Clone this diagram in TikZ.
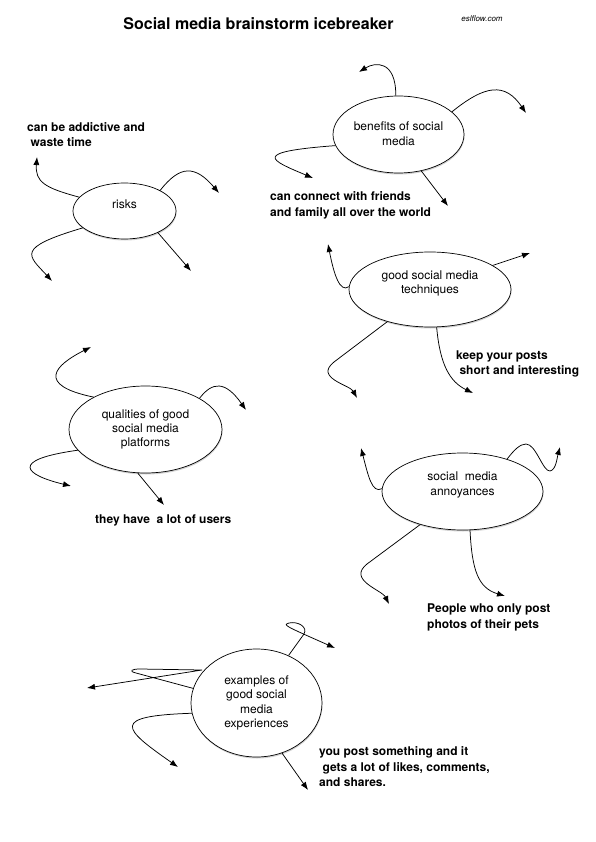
\documentclass[tikz,border=0pt]{standalone}
\usepackage{fontspec}
\setmainfont{TeX Gyre Heros}
\usetikzlibrary{arrows.meta,shapes.geometric,shadows}

\begin{document}
\begin{tikzpicture}[x=1pt,y=-1pt,
  bubble/.style={draw, ellipse, line width=0.7pt, fill=white, inner sep=0pt,
    drop shadow={shadow xshift=0.5pt, shadow yshift=-1.5pt, opacity=0.35}},
  bubtext/.style={align=center, inner sep=0pt, font=\fontsize{12}{14.4}\selectfont},
  note/.style={align=left, anchor=north west, inner sep=0pt, font=\fontsize{12}{15.5}\selectfont\bfseries},
  link/.style={line width=0.75pt, -{Latex[length=8pt,width=6pt]}}]

  \path[fill=white] (0,0) rectangle (596,842);

  % Title
  \node[font=\fontsize{16}{19}\selectfont\bfseries] (title) at (258.5,23.5) {Social media brainstorm icebreaker};
  \node[font=\fontsize{8}{10}\selectfont\itshape] (site) at (482,18.5) {eslflow.com};

  % Bubbles
  \node[bubble, minimum width=103, minimum height=56,
    label={[bubtext,yshift=7pt]center:risks}] (risks) at (124.5,211) {};
  \node[bubble, minimum width=131, minimum height=77,
    label={[bubtext,yshift=1pt]center:benefits of social\\media}] (benefits) at (398.5,134.5) {};
  \node[bubble, minimum width=162, minimum height=75,
    label={[bubtext,yshift=6pt]center:good social media\\techniques}] (tech) at (430,289.5) {};
  \node[bubble, minimum width=153, minimum height=87,
    label={[bubtext]center:qualities of good\\social media\\platforms}] (qual) at (145.5,429.5) {};
  \node[bubble, minimum width=161, minimum height=77,
    label={[bubtext,yshift=6.5pt]center:social\ \ media\\annoyances}] (annoy) at (462.5,491.5) {};
  \node[bubble, minimum width=131, minimum height=108,
    label={[bubtext]center:examples of\\good social\\media\\experiences}] (examples) at (256.5,703) {};

  % Notes
  \node[note] (risks-note) at (27,122) {can be addictive and\\\hspace*{.28em}waste time};
  \node[note] (benefits-note) at (270,191.5) {can connect with friends\\and family all over the world};
  \node[note] (tech-note) at (456,350.5) {keep your posts\\\hspace*{.28em}short and interesting};
  \node[note] (qual-note) at (95,515) {they have\ \ a lot of users};
  \node[note] (annoy-note) at (427,604) {People who only post\\photos of their pets};
  \node[note] (examples-note) at (319,746.5) {you post something and it\\\hspace*{.28em}gets a lot of likes, comments,\\and shares.};

  % Arrow ends
  \coordinate (r1) at (37,157);   \coordinate (r2) at (219,193);
  \coordinate (r3) at (52,281);   \coordinate (r4) at (191,271);
  \coordinate (b1) at (359,72);   \coordinate (b2) at (526,113);
  \coordinate (b3) at (313,178);  \coordinate (b4) at (448,206);
  \coordinate (t1) at (328,244);  \coordinate (t2) at (530,253);
  \coordinate (t3) at (357,398);  \coordinate (t4) at (473,393);
  \coordinate (q1) at (91,347);   \coordinate (q2) at (246,410);
  \coordinate (q3) at (71,486);   \coordinate (q4) at (164,505);
  \coordinate (a1) at (361,448);  \coordinate (a2) at (560,447);
  \coordinate (a3) at (389,604);  \coordinate (a4) at (505,596);
  \coordinate (e1) at (335,648);  \coordinate (e2) at (87,688);
  \coordinate (e3) at (178,767);  \coordinate (e4) at (308,790);

  % Connectors
  \draw[link] (risks.163) .. controls (45,188) and (35,182) .. (r1);
  \draw[link] (risks.30) .. controls (180,165) and (195,165) .. (r2);
  \draw[link] (risks.202) .. controls (15,248) and (28,255) .. (r3);
  \draw[link] (risks.327) -- (r4);

  \draw[link] (benefits.94) .. controls (396,60) and (375,62) .. (b1);
  \draw[link] (benefits.23) .. controls (485,85) and (505,82) .. (b2);
  \draw[link] (benefits.190) .. controls (250,152) and (270,160) .. (b3);
  \draw[link] (benefits.302) -- (b4);

  \draw[link] (tech.178) .. controls (340,293) and (334,275) .. (t1);
  \draw[link] (tech.21) -- (t2);
  \draw[link] (tech.217) -- (334,362) .. controls (314,378) and (350,385) .. (t3);
  \draw[link] (tech.280) .. controls (440,365) and (450,382) .. (t4);

  \draw[link] (qual.148) .. controls (35,385) and (55,365) .. (q1);
  \draw[link] (qual.30) .. controls (212,382) and (225,380) .. (q2);
  \draw[link] (qual.197) .. controls (8,460) and (25,475) .. (q3);
  \draw[link] (qual.260) -- (q4);

  \draw[link] (annoy.178) .. controls (372,494) and (368,475) .. (a1);
  \draw[link] (annoy.36) .. controls (514,450) and (520,444) .. (526,444)
    .. controls (536,444) and (543,472) .. (550,471)
    .. controls (556,470) and (557,458) .. (a2);
  \draw[link] (annoy.218) -- (367,564) .. controls (347,580) and (382,590) .. (a3);
  \draw[link] (annoy.281) .. controls (472,570) and (478,588) .. (a4);

  \draw[link] (examples.56) -- (304,634) .. controls (308,627) and (298,621) .. (289,623)
    .. controls (283,625) .. (e1);
  \draw[link] (examples.167) -- (136,673) .. controls (128,671) and (132,669) .. (140,669)
    -- (202,670) -- (e2);
  \draw[link] (examples.189) .. controls (110,716) and (122,728) .. (e3);
  \draw[link] (examples.297) -- (e4);
\end{tikzpicture}
\end{document}
